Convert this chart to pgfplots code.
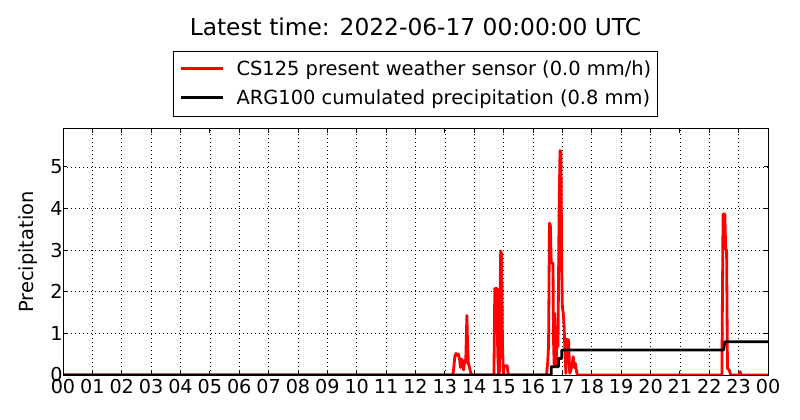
\documentclass[border=0pt]{standalone}
\usepackage{fontspec}
\setmainfont{DejaVu Sans}
\usepackage{pgfplots}
\pgfplotsset{compat=1.18}
\begin{document}
\begin{tikzpicture}
\useasboundingbox (0,0) rectangle (800bp,420bp);
\begin{axis}[
  at={(63bp,45bp)}, anchor=south west,
  scale only axis, width=705bp, height=246bp,
  xmin=0, xmax=24, ymin=0, ymax=5.91,
  xtick={0,1,...,24},
  xticklabel={\pgfmathtruncatemacro\hh{mod(round(\tick),24)}\ifnum\hh<10 0\fi\hh},
  ytick={0,1,2,3,4,5},
  /pgf/number format/assume math mode=true,
  tick align=inside, tick pos=both,
  major tick length=4bp,
  tick style={black, line width=0.8bp},
  axis line style={black, line width=1bp},
  grid=major,
  major grid style={black, line width=0.6bp, dash pattern=on 1bp off 3bp},
  xticklabel style={font=\fontsize{19.2bp}{23bp}\selectfont, yshift=-1bp},
  yticklabel style={font=\fontsize{19.2bp}{23bp}\selectfont, xshift=3bp},
  ylabel={Precipitation},
  ylabel style={at={(axis description cs:-0.0496,0.5)}, anchor=center, inner sep=0pt, font=\fontsize{19.44bp}{23bp}\selectfont},
  title={Latest time: 2022-06-17 00:00:00 UTC},
  title style={at={(axis description cs:0.5,1.355)}, anchor=base, inner sep=0pt, font=\fontsize{23.33bp}{28bp}\selectfont},
  legend cell align=left,
  legend style={at={(0.5,1.0488)}, anchor=south, draw=black, line width=1bp, fill=white,
    inner xsep=6.5bp, inner ysep=8.5bp, row sep=10bp, column sep=12bp,
    font=\fontsize{19.44bp}{23bp}\selectfont,
    nodes={inner sep=0pt, text height=15.5bp, text depth=3.5bp}},
  legend image code/.code={\draw[#1] (0bp,1bp) -- (42bp,1bp);},
]
\addplot[red, line width=2.8bp, line join=round] coordinates {
(0,0) (13.27,0) (13.30,0.15) (13.34,0.45) (13.38,0.52) (13.42,0.47) (13.46,0.50)
(13.50,0.38) (13.53,0.18) (13.57,0.38) (13.61,0.30) (13.64,0.12) (13.67,0.35)
(13.71,0.30) (13.73,0.9) (13.75,1.43) (13.77,0.8) (13.80,0.28) (13.84,0.18)
(13.88,0.05) (13.92,0) (14.67,0) (14.70,2.08) (14.77,2.08) (14.80,0.5) (14.83,0)
(14.86,0.1) (14.88,2.0) (14.90,2.98) (14.93,2.9) (14.96,0.8) (14.99,0)
(15.02,0.22) (15.12,0.22) (15.16,0) (16.46,0) (16.50,0.3) (16.53,0.7)
(16.56,3.65) (16.59,3.6) (16.62,2.69) (16.68,2.69) (16.70,0.8) (16.72,0.25)
(16.74,1.48) (16.77,0.6) (16.79,0.2) (16.82,1.16) (16.85,0.68) (16.89,4.05)
(16.92,5.39) (16.95,5.37) (16.98,2.44) (17.00,1.64) (17.03,1.48) (17.06,1.16)
(17.09,0.52) (17.12,0.04) (17.16,0.86) (17.21,0.84) (17.25,0.04) (17.29,0.12)
(17.32,0.2) (17.37,0.44) (17.40,0.18) (17.44,0.28) (17.49,0.05) (17.53,0)
(22.43,0) (22.47,3.87) (22.53,3.87) (22.56,3.02) (22.59,3.0) (22.62,0.16)
(22.68,0.12) (22.73,0) (23.02,0) (23.05,0.08) (23.08,0) (24,0)
};
\addlegendentry{CS125 present weather sensor (0.0 mm/h)}
\addplot[black, line width=2.8bp, line join=round] coordinates {
(0,0) (16.62,0) (16.62,0.2) (16.87,0.2) (16.87,0.4) (16.98,0.4) (16.98,0.6)
(22.49,0.6) (22.53,0.8) (24,0.8)
};
\addlegendentry{ARG100 cumulated precipitation (0.8 mm)}
\end{axis}
\end{tikzpicture}
\end{document}
